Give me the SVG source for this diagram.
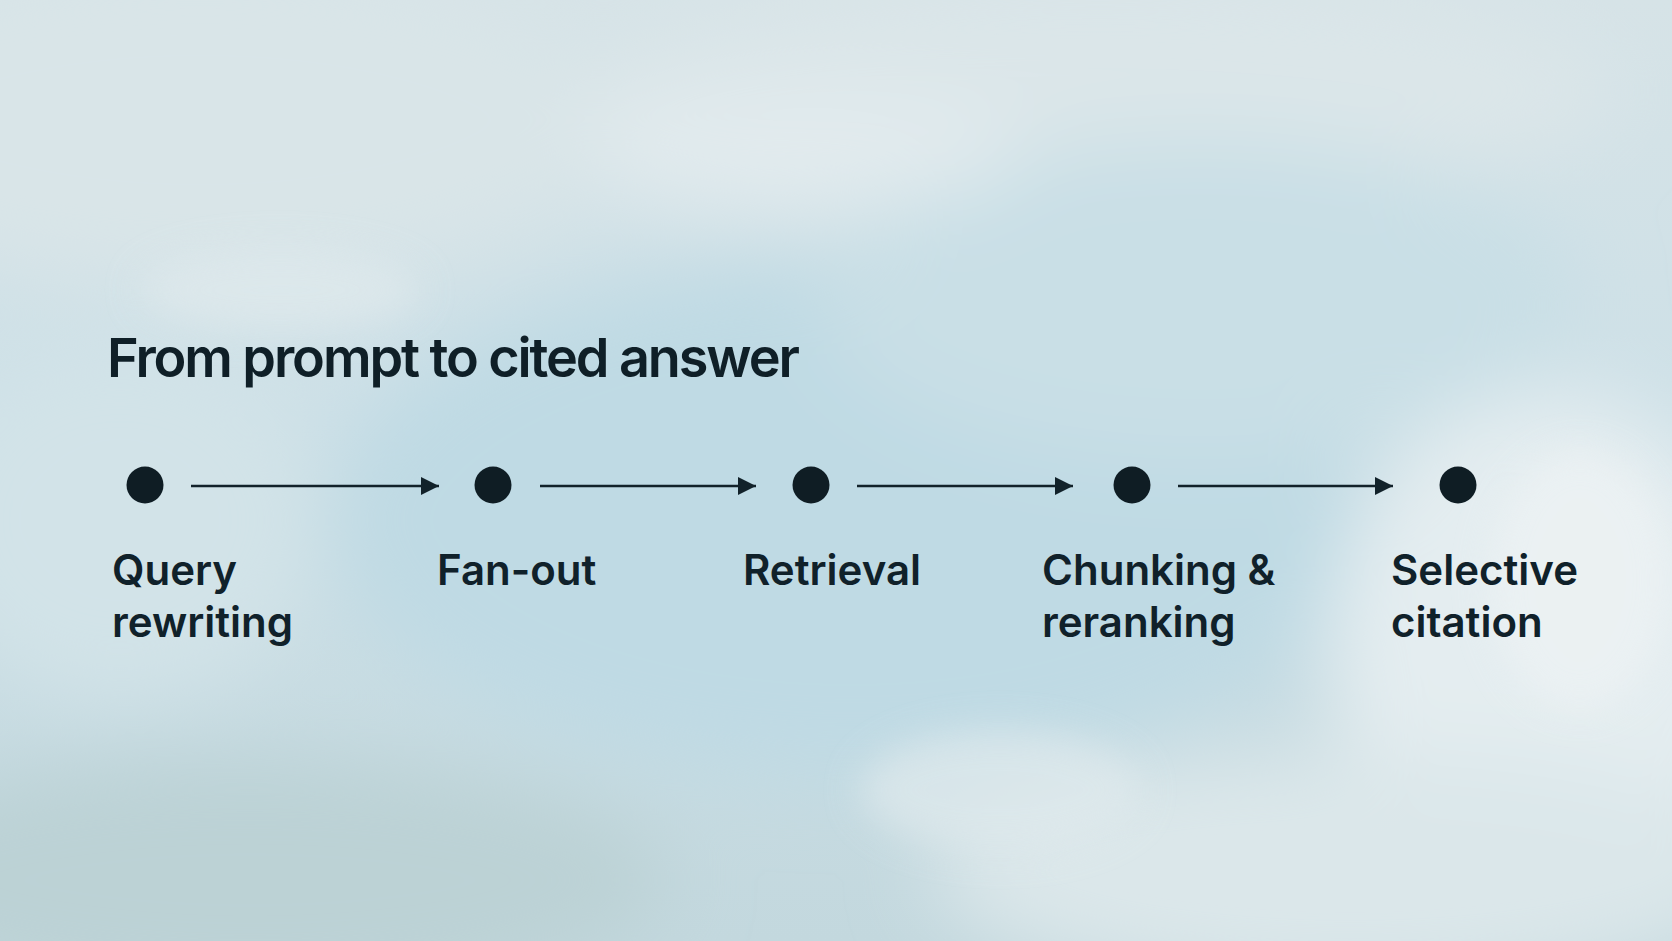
<svg xmlns="http://www.w3.org/2000/svg" width="1672" height="941" viewBox="0 0 1672 941">
  <defs>
    <linearGradient id="bg" x1="0" y1="0" x2="0" y2="1">
      <stop offset="0" stop-color="#d6e3e7"/>
      <stop offset="0.45" stop-color="#cde0e7"/>
      <stop offset="1" stop-color="#c3d8de"/>
    </linearGradient>
    <filter id="blur" x="-30%" y="-30%" width="160%" height="160%">
      <feGaussianBlur stdDeviation="40"/>
    </filter>
    <filter id="blur2" x="-30%" y="-30%" width="160%" height="160%">
      <feGaussianBlur stdDeviation="18"/>
    </filter>
    <marker id="arrow" viewBox="0 0 18 18" refX="18" refY="9" markerWidth="18" markerHeight="18" markerUnits="userSpaceOnUse" orient="auto">
      <path d="M0,0 L18,9 L0,18 Z" fill="#12222a"/>
    </marker>
    <style>
      .dot { fill: #0f1d24; }
      .conn { stroke: #12222a; stroke-width: 2.5; fill: none; marker-end: url(#arrow); }
      .label { font-family: Inter, "Open Sans", "Liberation Sans", sans-serif; font-size: 42px; font-weight: 600; fill: #10212a; letter-spacing: 0px; }
      .title { font-family: Inter, "Open Sans", "Liberation Sans", sans-serif; font-size: 54px; font-weight: 600; fill: #0f1f27; letter-spacing: -2.1px; }
    </style>
  </defs>

  <g id="background">
    <rect x="0" y="0" width="1672" height="941" fill="url(#bg)"/>
    <g filter="url(#blur)">
      <ellipse cx="200" cy="120" rx="420" ry="160" fill="#d9e5e8"/>
      <ellipse cx="1100" cy="90" rx="520" ry="110" fill="#dbe6e9"/>
      <ellipse cx="850" cy="520" rx="520" ry="260" fill="#bfdae4"/>
      <ellipse cx="1200" cy="300" rx="380" ry="160" fill="#c9dfe6"/>
      <ellipse cx="1550" cy="650" rx="220" ry="260" fill="#e4edf0"/>
      <ellipse cx="1350" cy="870" rx="420" ry="120" fill="#dbe7ea"/>
      <ellipse cx="250" cy="880" rx="420" ry="120" fill="#bcd2d5"/>
      <ellipse cx="120" cy="520" rx="200" ry="180" fill="#d2e3e8"/>
      <ellipse cx="800" cy="150" rx="220" ry="60" fill="#e2ebee"/>
    </g>
    <g filter="url(#blur2)" opacity="0.7">
      <ellipse cx="1580" cy="580" rx="90" ry="130" fill="#eef3f4"/>
      <ellipse cx="1000" cy="790" rx="140" ry="60" fill="#e0eaed"/>
      <ellipse cx="280" cy="290" rx="140" ry="40" fill="#e0eaed"/>
    </g>
  </g>

  <g id="title">
    <text class="title" x="107" y="377">From prompt to cited answer</text>
  </g>

  <g id="connectors">
    <line class="conn" x1="191" y1="486" x2="439" y2="486"/>
    <line class="conn" x1="540" y1="486" x2="756" y2="486"/>
    <line class="conn" x1="857" y1="486" x2="1073" y2="486"/>
    <line class="conn" x1="1178" y1="486" x2="1393" y2="486"/>
  </g>

  <g id="node-query">
    <circle class="dot" cx="145" cy="485" r="18.5"/>
    <text class="label" x="112" y="585">Query</text>
    <text class="label" x="112" y="637">rewriting</text>
  </g>
  <g id="node-fanout">
    <circle class="dot" cx="493" cy="485" r="18.5"/>
    <text class="label" x="437" y="585">Fan-out</text>
  </g>
  <g id="node-retrieval">
    <circle class="dot" cx="811" cy="485" r="18.5"/>
    <text class="label" x="743" y="585">Retrieval</text>
  </g>
  <g id="node-chunking">
    <circle class="dot" cx="1132" cy="485" r="18.5"/>
    <text class="label" x="1042" y="585">Chunking &amp;</text>
    <text class="label" x="1042" y="637">reranking</text>
  </g>
  <g id="node-citation">
    <circle class="dot" cx="1458" cy="485" r="18.5"/>
    <text class="label" x="1391" y="585">Selective</text>
    <text class="label" x="1391" y="637">citation</text>
  </g>
</svg>
